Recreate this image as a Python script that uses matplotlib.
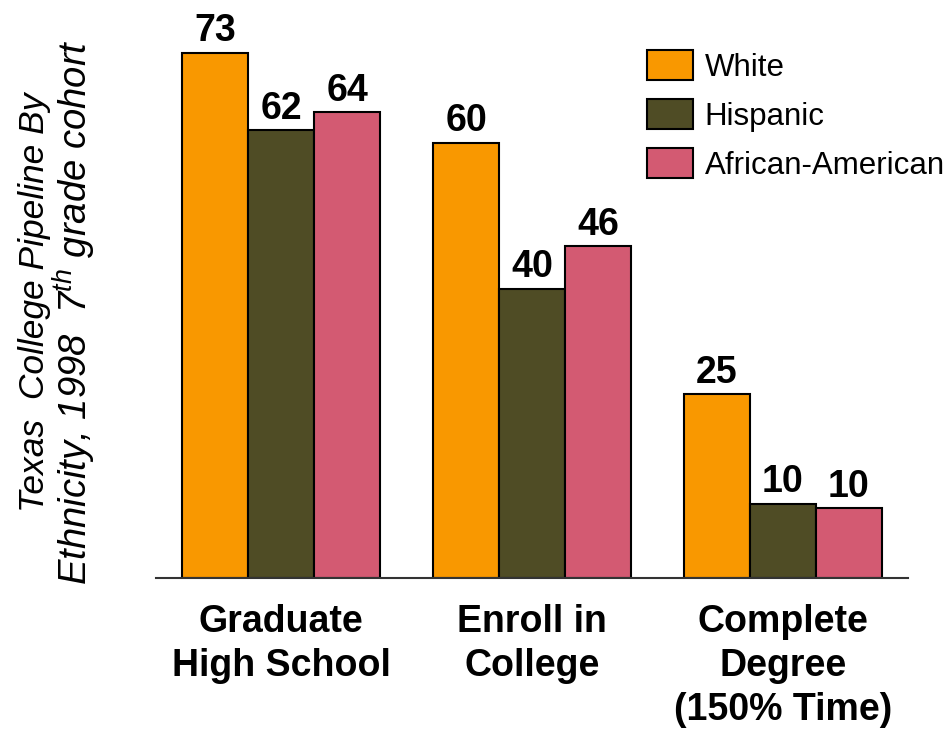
import numpy as np
import matplotlib
matplotlib.use("Agg")
import matplotlib.pyplot as plt

plt.rcParams['font.family'] = ['Liberation Sans', 'DejaVu Sans']
plt.rcParams['mathtext.fontset'] = 'custom'
plt.rcParams['mathtext.it'] = 'Liberation Sans:italic'
plt.rcParams['mathtext.rm'] = 'Liberation Sans:italic'

# data
categories = ["Graduate\nHigh School", "Enroll in\nCollege", "Complete\nDegree\n(150% Time)"]
series = ["White", "Hispanic", "African-American"]
white = [73, 60.5, 25.5]
hispanic = [62.2, 40.2, 10.3]
african = [64.7, 46.1, 9.7]
white_lbl = [73, 60, 25]
hispanic_lbl = [62, 40, 10]
african_lbl = [64, 46, 10]
colors = ["#F99800", "#4F4C25", "#D35A72"]

fig = plt.figure(figsize=(9.51, 7.31), dpi=100)
ax = fig.add_axes([156/951, 153/731, 752/951, 578/731])

x = np.arange(len(categories))
w = 0.263
handles = []
for i, (vals, lbls) in enumerate([(white, white_lbl), (hispanic, hispanic_lbl), (african, african_lbl)]):
    b = ax.bar(x + (i - 1) * w, vals, w, color=colors[i], edgecolor='black',
               linewidth=1.5, label=series[i], zorder=2)
    handles.append(b)
    for xi, v, l in zip(x + (i - 1) * w, vals, lbls):
        ax.text(xi, v + 1.6, str(l), ha='center', va='baseline',
                fontsize=27, fontweight='bold')

ax.set_xlim(-0.5, 2.5)
ax.set_ylim(0, 80.3)
ax.set_xticks(x)
ax.set_xticklabels(categories, fontsize=27, fontweight='bold', linespacing=1.27)
ax.tick_params(axis='x', length=0, pad=19)
ax.set_yticks([])
for s in ['top', 'right', 'left']:
    ax.spines[s].set_visible(False)
ax.spines['bottom'].set_color('#333333')
ax.spines['bottom'].set_linewidth(1.5)

ax.legend(handles=handles, loc='upper left', bbox_to_anchor=(647/951, 1 - 50/731),
          bbox_transform=fig.transFigure, frameon=False, fontsize=22.5,
          handlelength=1.47, handleheight=1.09, labelspacing=0.53,
          handletextpad=0.38, borderpad=0, borderaxespad=0)

# y title, two lines
fig.text(44/951, 1 - 302/731, "Texas  College Pipeline By",
         rotation=90, rotation_mode='anchor', ha='center', va='baseline',
         fontsize=25.5, fontstyle='italic')
fig.text(88/951, 1 - 312/731,
         r"Ethnicity, 1998  $\mathit{7}^{\mathit{th}}$ grade cohort",
         rotation=90, rotation_mode='anchor', ha='center', va='baseline',
         fontsize=27.5, fontstyle='italic')

fig.savefig("out.png", dpi=100)
